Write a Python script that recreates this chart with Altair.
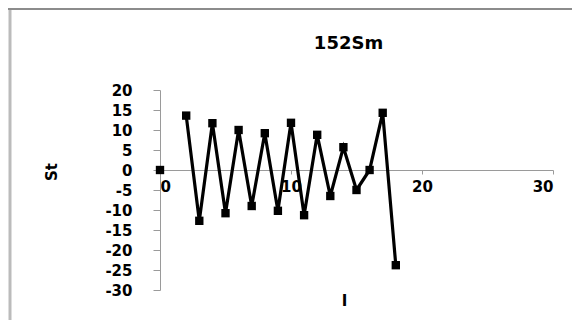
import altair as alt
import pandas as pd

I_vals = [0, 2, 3, 4, 5, 6, 7, 8, 9, 10, 11, 12, 13, 14, 15, 16, 17, 18]
St_vals = [0, 13.6, -12.7, 11.7, -10.8, 10.0, -9.0, 9.2, -10.2, 11.8, -11.3,
           8.8, -6.5, 5.7, -5.0, 0.0, 14.3, -23.8]
segment = [0] + [1] * (len(I_vals) - 1)
x_ticks = [0, 10, 20, 30]
y_ticks = [20, 15, 10, 5, 0, -5, -10, -15, -20, -25, -30]
y_title = "St"

df = pd.DataFrame({"I": I_vals, "St": St_vals, "seg": segment})

FONT = "DejaVu Sans"

x_enc = alt.X("I:Q", scale=alt.Scale(domain=[0, 30], nice=False),
              axis=alt.Axis(values=x_ticks, offset=-120, title="I",
                            titleX=184, titleY=130, titleBaseline="middle",
                            tickSize=4, labelPadding=5, grid=False, labelOverlap=False,
                            labelExpr="toString(datum.value)",
                            domainColor="#9a9a9a", tickColor="#9a9a9a"))
y_enc = alt.Y("St:Q", scale=alt.Scale(domain=[-30, 20], nice=False),
              axis=alt.Axis(values=y_ticks, tickCount=11, title=None,
                            tickSize=7, labelPadding=21, grid=False, labelOverlap=False,
                            labelExpr="toString(datum.value)",
                            domainColor="#9a9a9a", tickColor="#9a9a9a"))

base = alt.Chart(df).encode(x=x_enc, y=y_enc)
line = base.mark_line(color="black", strokeWidth=3.2).encode(detail="seg:N")
pts = base.mark_square(color="black", size=70, opacity=1)

frame_df = pd.DataFrame({"k": [0]})
left_border = alt.Chart(frame_df).mark_rule(color="#bbbbbb", strokeWidth=3).encode(
    x=alt.value(-150), y=alt.value(-82), y2=alt.value(230))
top_border = alt.Chart(frame_df).mark_rule(color="#8c8c8c", strokeWidth=2).encode(
    x=alt.value(-152), x2=alt.value(420), y=alt.value(-81))
y_title_mark = alt.Chart(frame_df).mark_text(
    angle=270, font=FONT, fontSize=15, fontWeight="bold", color="black",
    align="center", baseline="middle").encode(
    x=alt.value(-108), y=alt.value(82), text=alt.value(y_title))

chart = alt.layer(line, pts, left_border, top_border, y_title_mark).properties(
    width=393, height=200,
    title=alt.TitleParams("152Sm", fontSize=18, fontWeight="bold", font=FONT,
                          color="black", offset=0, dx=-8, dy=46),
    autosize=alt.AutoSizeParams(type="none"),
    padding={"left": 152, "top": 82, "right": 19, "bottom": 30},
).configure_view(stroke=None).configure_axis(
    labelFont=FONT, labelFontSize=15, labelFontWeight="bold", labelColor="black",
    titleFont=FONT, titleFontSize=15, titleFontWeight="bold", titleColor="black",
)

chart.save("out.html", embed_options={"renderer": "svg", "actions": False})
